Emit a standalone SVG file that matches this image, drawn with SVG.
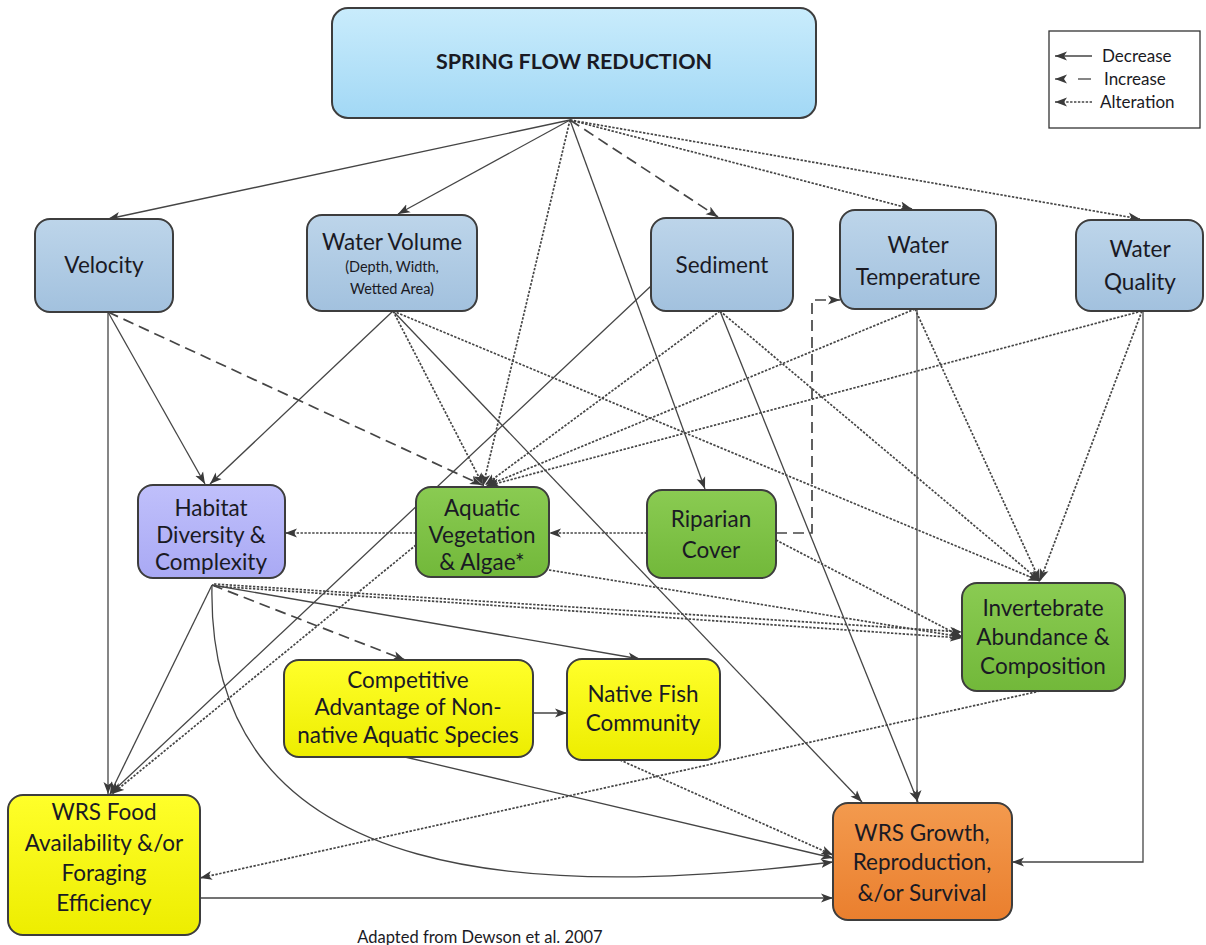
<svg xmlns="http://www.w3.org/2000/svg" width="1206" height="945" viewBox="0 0 1206 945">
<style>
.n{stroke:#3d3d3d;stroke-width:2}
.t{font-family:Lato,"Liberation Sans",sans-serif;font-size:22.5px;fill:#1a1a24;text-anchor:middle}
.s{font-size:14.5px}
.h{font-size:21.5px;font-weight:bold}
.lg{font-size:17px;text-anchor:start}
.ft{font-size:16.5px}
.c{fill:none;stroke:#454545;stroke-width:1.3}
.d{stroke-dasharray:2.4 1.5;stroke-width:1.7}
.k{stroke-dasharray:11 6;stroke-width:1.7}
</style>
<defs>
<marker id="a" viewBox="0 0 12 10" refX="12" refY="5" markerWidth="12" markerHeight="10" markerUnits="userSpaceOnUse" orient="auto"><path d="M0,0.5 L12,5 L0,9.5 L3,5 z" fill="#3a3a3a"/></marker>
<linearGradient id="gs" x1="0" y1="0" x2="0" y2="1"><stop offset="0" stop-color="#c9ecfc"/><stop offset="1" stop-color="#a2d8f5"/></linearGradient>
<linearGradient id="gb" x1="0" y1="0" x2="0" y2="1"><stop offset="0" stop-color="#bdd5ea"/><stop offset="1" stop-color="#a2c1de"/></linearGradient>
<linearGradient id="gh" x1="0" y1="0" x2="0" y2="1"><stop offset="0" stop-color="#c0c0fb"/><stop offset="1" stop-color="#a9a9f4"/></linearGradient>
<linearGradient id="gg" x1="0" y1="0" x2="0" y2="1"><stop offset="0" stop-color="#8acb52"/><stop offset="1" stop-color="#72b83a"/></linearGradient>
<linearGradient id="gy" x1="0" y1="0" x2="0" y2="1"><stop offset="0" stop-color="#ffff2a"/><stop offset="1" stop-color="#eded00"/></linearGradient>
<linearGradient id="go" x1="0" y1="0" x2="0" y2="1"><stop offset="0" stop-color="#f39a4e"/><stop offset="1" stop-color="#ea7f2e"/></linearGradient>
</defs>
<rect width="1206" height="945" fill="#ffffff"/>

<g id="connectors">
<line class="c" x1="570" y1="120" x2="108" y2="219" marker-end="url(#a)"/>
<line class="c" x1="570" y1="120" x2="398" y2="214" marker-end="url(#a)"/>
<line class="c d" x1="570" y1="120" x2="483" y2="486" marker-end="url(#a)"/>
<line class="c" x1="570" y1="120" x2="705" y2="489" marker-end="url(#a)"/>
<line class="c k" x1="570" y1="120" x2="718" y2="217" marker-end="url(#a)"/>
<line class="c d" x1="570" y1="120" x2="912" y2="209" marker-end="url(#a)"/>
<line class="c d" x1="570" y1="120" x2="1140" y2="219" marker-end="url(#a)"/>

<line class="c" x1="108" y1="312" x2="108" y2="794" marker-end="url(#a)"/>
<line class="c" x1="108" y1="312" x2="205" y2="484" marker-end="url(#a)"/>
<line class="c k" x1="108" y1="312" x2="482" y2="485" marker-end="url(#a)"/>

<line class="c" x1="393" y1="311" x2="210" y2="484" marker-end="url(#a)"/>
<line class="c d" x1="393" y1="311" x2="483" y2="485" marker-end="url(#a)"/>
<line class="c" x1="393" y1="311" x2="862" y2="802" marker-end="url(#a)"/>
<line class="c d" x1="393" y1="311" x2="1040" y2="581" marker-end="url(#a)"/>

<line class="c d" x1="720" y1="311" x2="485" y2="485" marker-end="url(#a)"/>
<line class="c" x1="720" y1="311" x2="918" y2="802" marker-end="url(#a)"/>
<line class="c d" x1="720" y1="311" x2="1040" y2="581" marker-end="url(#a)"/>
<line class="c" x1="651" y1="286" x2="110" y2="794" marker-end="url(#a)"/>

<line class="c d" x1="915" y1="309" x2="486" y2="486" marker-end="url(#a)"/>
<line class="c" x1="917" y1="309" x2="917" y2="802" marker-end="url(#a)"/>
<line class="c d" x1="915" y1="309" x2="1040" y2="581" marker-end="url(#a)"/>

<line class="c d" x1="1142" y1="311" x2="487" y2="486" marker-end="url(#a)"/>
<line class="c d" x1="1142" y1="311" x2="1040" y2="581" marker-end="url(#a)"/>
<polyline class="c" points="1143,311 1143,862 1012,862" marker-end="url(#a)"/>

<line class="c d" x1="647" y1="533" x2="549" y2="533" marker-end="url(#a)"/>
<polyline class="c k" points="776,533 812,533 812,300 840,300" marker-end="url(#a)"/>
<line class="c d" x1="776" y1="540" x2="962" y2="637" marker-end="url(#a)"/>

<line class="c d" x1="416" y1="533" x2="285" y2="533" marker-end="url(#a)"/>
<line class="c d" x1="416" y1="545" x2="112" y2="794" marker-end="url(#a)"/>
<line class="c d" x1="549" y1="570" x2="962" y2="637" marker-end="url(#a)"/>

<line class="c d" x1="214" y1="584" x2="962" y2="632" marker-end="url(#a)"/>
<line class="c d" x1="214" y1="586" x2="962" y2="638" marker-end="url(#a)"/>
<line class="c" x1="212" y1="585" x2="110" y2="794" marker-end="url(#a)"/>
<line class="c k" x1="212" y1="585" x2="405" y2="660" marker-end="url(#a)"/>
<line class="c" x1="212" y1="585" x2="640" y2="659" marker-end="url(#a)"/>
<path class="c" d="M212,585 C205,900 560,895 833,862" marker-end="url(#a)"/>

<line class="c" x1="533" y1="713" x2="567" y2="713" marker-end="url(#a)"/>
<line class="c" x1="405" y1="757" x2="833" y2="858" marker-end="url(#a)"/>
<line class="c d" x1="620" y1="760" x2="833" y2="855" marker-end="url(#a)"/>
<line class="c d" x1="1040" y1="691" x2="200" y2="878" marker-end="url(#a)"/>
<line class="c" x1="200" y1="898" x2="833" y2="898" marker-end="url(#a)"/>
</g>

<g id="spring-flow-reduction">
<rect class="n" x="332" y="8" width="484" height="110" rx="16" fill="url(#gs)"/>
<text class="t h" x="574" y="69">SPRING FLOW REDUCTION</text>
</g>
<g id="velocity">
<rect class="n" x="35" y="219" width="138" height="93" rx="15" fill="url(#gb)"/>
<text class="t" x="104" y="273">Velocity</text>
</g>
<g id="water-volume">
<rect class="n" x="307" y="215" width="170" height="96" rx="15" fill="url(#gb)"/>
<text class="t" x="392" y="250">Water Volume</text>
<text class="t s" x="392" y="272">(Depth, Width,</text>
<text class="t s" x="392" y="294">Wetted Area)</text>
</g>
<g id="sediment">
<rect class="n" x="651" y="218" width="142" height="93" rx="15" fill="url(#gb)"/>
<text class="t" x="722" y="273">Sediment</text>
</g>
<g id="water-temperature">
<rect class="n" x="840" y="210" width="156" height="99" rx="15" fill="url(#gb)"/>
<text class="t" x="918" y="253">Water</text>
<text class="t" x="918" y="285">Temperature</text>
</g>
<g id="water-quality">
<rect class="n" x="1076" y="220" width="127" height="91" rx="15" fill="url(#gb)"/>
<text class="t" x="1140" y="257">Water</text>
<text class="t" x="1140" y="290">Quality</text>
</g>
<g id="habitat">
<rect class="n" x="138" y="485" width="147" height="93" rx="15" fill="url(#gh)"/>
<text class="t" x="211" y="516">Habitat</text>
<text class="t" x="211" y="543">Diversity &amp;</text>
<text class="t" x="211" y="570">Complexity</text>
</g>
<g id="aquatic-vegetation">
<rect class="n" x="416" y="487" width="133" height="90" rx="15" fill="url(#gg)"/>
<text class="t" x="482" y="516">Aquatic</text>
<text class="t" x="482" y="543">Vegetation</text>
<text class="t" x="482" y="570">&amp; Algae*</text>
</g>
<g id="riparian-cover">
<rect class="n" x="647" y="490" width="129" height="88" rx="15" fill="url(#gg)"/>
<text class="t" x="711" y="527">Riparian</text>
<text class="t" x="711" y="558">Cover</text>
</g>
<g id="invertebrate">
<rect class="n" x="962" y="583" width="163" height="108" rx="15" fill="url(#gg)"/>
<text class="t" x="1043" y="616">Invertebrate</text>
<text class="t" x="1043" y="645">Abundance &amp;</text>
<text class="t" x="1043" y="674">Composition</text>
</g>
<g id="competitive-advantage">
<rect class="n" x="284" y="660" width="249" height="97" rx="15" fill="url(#gy)"/>
<text class="t" x="408" y="688">Competitive</text>
<text class="t" x="408" y="715">Advantage of Non-</text>
<text class="t" x="408" y="743">native Aquatic Species</text>
</g>
<g id="native-fish">
<rect class="n" x="567" y="659" width="153" height="101" rx="15" fill="url(#gy)"/>
<text class="t" x="643" y="702">Native Fish</text>
<text class="t" x="643" y="731">Community</text>
</g>
<g id="wrs-food">
<rect class="n" x="8" y="795" width="192" height="140" rx="15" fill="url(#gy)"/>
<text class="t" x="104" y="820">WRS Food</text>
<text class="t" x="104" y="851">Availability &amp;/or</text>
<text class="t" x="104" y="881">Foraging</text>
<text class="t" x="104" y="911">Efficiency</text>
</g>
<g id="wrs-growth">
<rect class="n" x="833" y="803" width="179" height="117" rx="15" fill="url(#go)"/>
<text class="t" x="922" y="841">WRS Growth,</text>
<text class="t" x="922" y="870">Reproduction,</text>
<text class="t" x="922" y="901">&amp;/or Survival</text>
</g>

<g id="legend">
<rect x="1049" y="31" width="151" height="97" fill="#fff" stroke="#333" stroke-width="1.3"/>
<line class="c" x1="1092" y1="56" x2="1055" y2="56" marker-end="url(#a)"/>
<line class="c" x1="1091" y1="79" x2="1078" y2="79"/>
<line class="c" x1="1063" y1="79" x2="1055" y2="79" marker-end="url(#a)"/>
<line class="c d" x1="1092" y1="102" x2="1055" y2="102" marker-end="url(#a)"/>
<text class="t lg" x="1102" y="62">Decrease</text>
<text class="t lg" x="1104" y="85">Increase</text>
<text class="t lg" x="1100" y="108">Alteration</text>
</g>
<text class="t ft" x="480" y="943">Adapted from Dewson et al. 2007</text>
</svg>
